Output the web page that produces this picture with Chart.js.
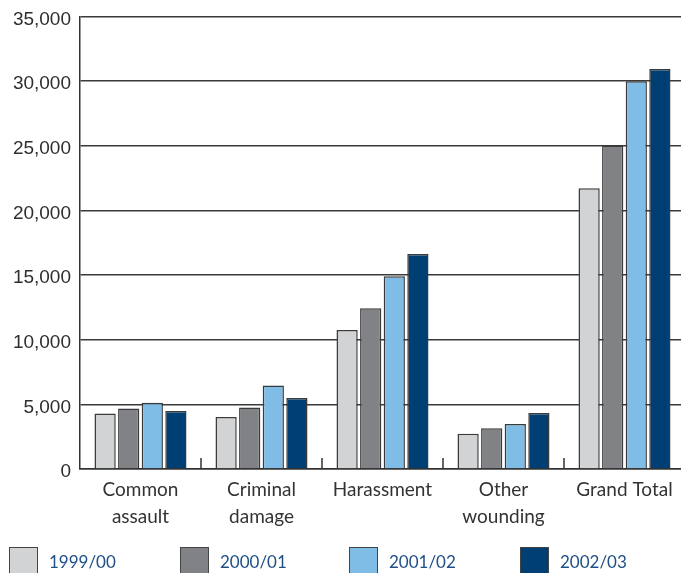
<!DOCTYPE html>
<html>
<head>
<meta charset="utf-8">
<script src="https://cdn.jsdelivr.net/npm/chart.js@4"></script>
<style>
  html, body { margin: 0; padding: 0; background: #fff; overflow: hidden; }
  #wrap { position: relative; width: 690px; height: 573px; }
  #legend { position: absolute; left: 0; top: 0; width: 690px; height: 573px; pointer-events: none; }
  .lg-item { position: absolute; top: 547px; }
  .lg-box { position: absolute; left: 0; top: 0; width: 27px; height: 27px; border: 1.5px solid #444; }
  .lg-text { position: absolute; left: 40px; top: 4px; font: 17px Lato, sans-serif; color: #1f4f86; white-space: nowrap; }
</style>
</head>
<body>
<div id="wrap">
  <canvas id="grafico" width="690" height="573"></canvas>
  <div id="legend"></div>
</div>
<script>
var categorias = [['Common', 'assault'], ['Criminal', 'damage'], ['Harassment'], ['Other', 'wounding'], ['Grand Total']];
var anos = ['1999/00', '2000/01', '2001/02', '2002/03'];
var v1999 = [4290, 4030, 10750, 2720, 21720];
var v2000 = [4690, 4750, 12440, 3160, 25030];
var v2001 = [5130, 6460, 14920, 3490, 30000];
var v2002 = [4490, 5490, 16640, 4330, 30950];
var yTicks = [0, 5000, 10000, 15000, 20000, 25000, 30000, 35000];

var cores = ['#d1d3d4', '#808285', '#7fbde7', '#003f73'];
var series = [v1999, v2000, v2001, v2002];
var legendX = [9, 180, 349, 520];

// marquinhas entre categorias, para cima a partir do eixo
var tickPlugin = {
  id: 'catTicks',
  afterDraw: function(chart) {
    var x = chart.scales.x, ctx = chart.ctx, bottom = chart.chartArea.bottom;
    ctx.save();
    ctx.strokeStyle = '#333';
    ctx.lineWidth = 1.5;
    for (var i = 0; i < categorias.length - 1; i++) {
      var px = (x.getPixelForValue(i) + x.getPixelForValue(i + 1)) / 2;
      ctx.beginPath();
      ctx.moveTo(px, bottom);
      ctx.lineTo(px, bottom - 11);
      ctx.stroke();
    }
    ctx.restore();
  }
};

new Chart(document.getElementById('grafico'), {
  type: 'bar',
  data: {
    labels: categorias,
    datasets: series.map(function(s, i) {
      return {
        label: anos[i],
        data: s,
        backgroundColor: cores[i],
        borderColor: '#3a3a3a',
        borderWidth: 1.5,
        categoryPercentage: 0.78,
        barPercentage: 0.9
      };
    })
  },
  options: {
    responsive: false,
    animation: false,
    layout: { padding: { top: 15, right: 5, bottom: 0, left: 0 } },
    plugins: { legend: { display: false }, tooltip: { enabled: false } },
    scales: {
      x: {
        afterFit: function(s) { s.height = 104; },
        grid: { display: false },
        border: { display: true, color: '#333', width: 1.5 },
        ticks: { color: '#333', font: { family: 'Lato', size: 19, lineHeight: 1.4 }, padding: 0, maxRotation: 0, autoSkip: false }
      },
      y: {
        min: 0,
        max: 35000,
        afterFit: function(s) { s.width = 80; },
        afterBuildTicks: function(s) { s.ticks = yTicks.map(function(v) { return { value: v }; }); },
        grid: { color: '#3a3a3a', lineWidth: 1.5, drawTicks: false },
        border: { display: true, color: '#333', width: 1.5 },
        ticks: {
          color: '#2e2e2e',
          font: { family: 'Liberation Sans', size: 19, lineHeight: 0.8 },
          padding: 9,
          labelOffset: 3,
          callback: function(v) { return v.toLocaleString('en-US'); }
        }
      }
    }
  },
  plugins: [tickPlugin]
});

// legenda em html
var leg = document.getElementById('legend');
anos.forEach(function(a, i) {
  leg.innerHTML += '<div class="lg-item" style="left:' + legendX[i] + 'px">' +
    '<div class="lg-box" style="background:' + cores[i] + '"></div>' +
    '<div class="lg-text">' + a + '</div></div>';
});
</script>
</body>
</html>
